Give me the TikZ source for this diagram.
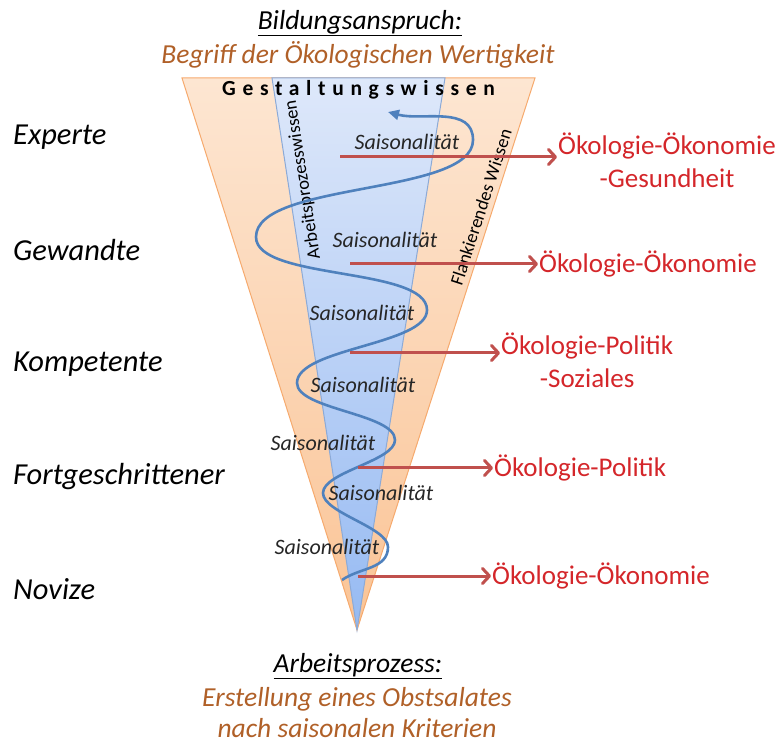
\documentclass[tikz,border=0pt]{standalone}
\usepackage{fontspec}
\setmainfont{Carlito}
\usetikzlibrary{arrows.meta}
\definecolor{spiralblue}{RGB}{79,129,189}
\definecolor{arrowred}{RGB}{192,80,77}
\definecolor{textred}{RGB}{212,38,42}
\definecolor{textbrown}{RGB}{176,96,40}
\definecolor{orangetop}{RGB}{253,230,210}
\definecolor{orangebot}{RGB}{250,196,150}
\definecolor{orangeedge}{RGB}{246,170,110}
\definecolor{bluetop}{RGB}{222,232,250}
\definecolor{bluebot}{RGB}{150,186,242}
\definecolor{blueedge}{RGB}{140,170,215}
\begin{document}
\begin{tikzpicture}[x=1pt, y=1pt,
        level/.style={font=\fontsize{30.5}{36}\selectfont\itshape, anchor=west, inner sep=0pt},
        result/.style={font=\fontsize{27}{33}\selectfont, text=textred, anchor=west,
                       inner sep=1pt, align=center},
        season/.style={font=\fontsize{22}{26}\selectfont\itshape, text=black!85, inner sep=0pt},
        side/.style={font=\fontsize{18.5}{22}\selectfont, inner sep=0pt},
        heading/.style={font=\fontsize{27.5}{33}\selectfont\itshape, inner sep=0pt},
        subline/.style={font=\fontsize{27.5}{31}\selectfont\itshape, text=textbrown,
                        align=center, inner sep=0pt},
        arr/.style={-{Straight Barb[length=7pt, width=15pt, round]}, line width=3pt, arrowred},
        spiral/.style={-{Triangle[length=11pt, width=10pt]}, line width=2.6pt, spiralblue,
                       looseness=0.6},
    ]
        \useasboundingbox (0,0) rectangle (783,744);

        % Cone
        \shadedraw[top color=orangetop, bottom color=orangebot, draw=orangeedge, line width=1pt]
            (182,666) -- (535,666) -- (357,114) -- cycle;
        \shadedraw[top color=bluetop, bottom color=bluebot, draw=blueedge, line width=1pt]
            (272,666) -- (445,666) -- (357,114) -- cycle;

        \node[font=\fontsize{21.5}{25}\selectfont\bfseries\addfontfeature{LetterSpace=31},
              anchor=west, inner sep=0pt] (gestalt) at (222,654) {Gestaltungswissen};
        \node[side, rotate=98.8] (apwissen) at (303,564) {Arbeitsprozesswissen};
        \node[side, rotate=72] (flwissen) at (481,537) {Flankierendes Wissen};

        % Spiral
        \draw[spiral] (342,164) to[out=35, in=-90, looseness=1] (388,197)
            to[out=90, in=-90] (323,251) to[out=90, in=-90] (395,304)
            to[out=90, in=-90] (297,361) to[out=90, in=-90] (427,434)
            to[out=90, in=-90] (256,507) to[out=90, in=-90] (473,604)
            to[out=90, in=-15, looseness=1] (388,632);

        \node[season] (sais1) at (407,602) {Saisonalität};
        \node[season] (sais2) at (385,504) {Saisonalität};
        \node[season] (sais3) at (362,431) {Saisonalität};
        \node[season] (sais4) at (363,359) {Saisonalität};
        \node[season] (sais5) at (323,301) {Saisonalität};
        \node[season] (sais6) at (381,251) {Saisonalität};
        \node[season] (sais7) at (327,197) {Saisonalität};

        % Levels
        \node[level] (experte) at (13,607) {Experte};
        \node[level] (gewandte) at (13,494) {Gewandte};
        \node[level] (kompetente) at (13,380) {Kompetente};
        \node[level] (fortgeschr) at (13,267) {Fortgeschrittener};
        \node[level] (novize) at (13,155) {Novize};

        % Results
        \coordinate (start1) at (340,587);
        \coordinate (start2) at (350,480);
        \coordinate (start3) at (350,391);
        \coordinate (start4) at (358,276);
        \coordinate (start5) at (358,168);
        \node[result] (res1) at (557,584) {Ökologie-Ökonomie\\-Gesundheit};
        \node[result] (res2) at (538,480) {Ökologie-Ökonomie};
        \node[result] (res3) at (500,384) {Ökologie-Politik\\-Soziales};
        \node[result] (res4) at (493,276) {Ökologie-Politik};
        \node[result] (res5) at (491,168) {Ökologie-Ökonomie};

        \draw[arr] (start1) -- (start1 -| res1.west);
        \draw[arr] (start2) -- (res2.west);
        \draw[arr] (start3) -- (start3 -| res3.west);
        \draw[arr] (start4) -- (res4.west);
        \draw[arr] (start5) -- (res5.west);

        % Headings
        \node[heading] (bildung) at (360,721) {\underline{Bildungsanspruch:}};
        \node[subline] (begriff) at (358,689) {Begriff der Ökologischen Wertigkeit};
        \node[heading] (arbeit) at (358,78) {\underline{Arbeitsprozess:}};
        \node[subline] (obstsalat) at (357,31) {Erstellung eines Obstsalates\\nach saisonalen Kriterien};
    \end{tikzpicture}
\end{document}
